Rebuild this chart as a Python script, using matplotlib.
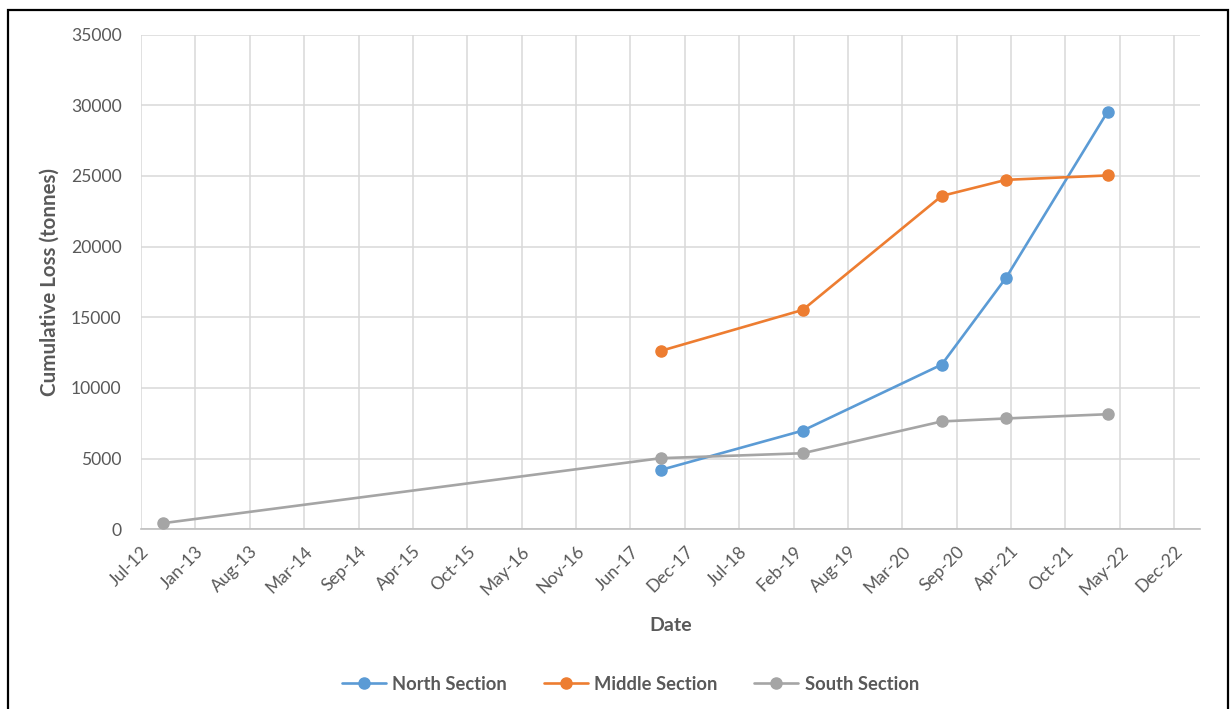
import matplotlib
matplotlib.use('Agg')
import matplotlib.pyplot as plt
import matplotlib.dates as mdates
from matplotlib.patches import Rectangle
import numpy as np
import datetime as dt

# ---- data ----
dates = ['2012-09-28', '2017-10-04', '2019-03-10', '2020-08-02', '2021-03-27', '2022-04-04']
north = [np.nan, 4200, 6980, 11650, 17800, 29530]
middle = [np.nan, 12620, 15520, 23580, 24720, 25030]
south = [430, 5030, 5380, 7630, 7840, 8140]
series_names = ['North Section', 'Middle Section', 'South Section']
y_ticks = [0, 5000, 10000, 15000, 20000, 25000, 30000, 35000]
x_tick_labels = ['Jul-12', 'Jan-13', 'Aug-13', 'Mar-14', 'Sep-14', 'Apr-15', 'Oct-15',
                 'May-16', 'Nov-16', 'Jun-17', 'Dec-17', 'Jul-18', 'Feb-19', 'Aug-19',
                 'Mar-20', 'Sep-20', 'Apr-21', 'Oct-21', 'May-22', 'Dec-22']
axis_start = '2012-07-10'
tick_step_days = 200
axis_span_days = 3895

colors = ['#5B9BD5', '#ED7D31', '#A5A5A5']
text_color = '#595959'
FONT = ['Lato', 'DejaVu Sans']

plt.rcParams['font.family'] = FONT

W, H = 1231, 709
fig = plt.figure(figsize=(W / 100, H / 100), dpi=100)
fig.patch.set_facecolor('white')

left, right, top, bottom = 141, 1200, 34.5, 529.3
ax = fig.add_axes([left / W, 1 - bottom / H, (right - left) / W, (bottom - top) / H])

x = [dt.datetime.strptime(d, '%Y-%m-%d') for d in dates]
start = dt.datetime.strptime(axis_start, '%Y-%m-%d')

for vals, c, name in zip([north, middle, south], colors, series_names):
    ax.plot(x, vals, color=c, lw=1.9, marker='o', ms=8, mec=c, mfc=c,
            label=name, solid_capstyle='round', zorder=3)

ticks = [start + dt.timedelta(days=tick_step_days * i) for i in range(len(x_tick_labels))]
ax.set_xticks(ticks)
ax.set_xticklabels(x_tick_labels, rotation=45, ha='right', va='top',
                   rotation_mode='anchor', fontsize=12.6, color=text_color)
ax.set_xlim(start, start + dt.timedelta(days=axis_span_days))

ax.set_yticks(y_ticks)
ax.set_yticklabels([str(v) for v in y_ticks], fontsize=12.6, color=text_color)
ax.set_ylim(0, 35000)

ax.tick_params(axis='x', length=0, pad=10)
ax.tick_params(axis='y', length=0, pad=14)

ax.grid(True, color='#D9D9D9', lw=1.1, zorder=0)
ax.set_axisbelow(True)
for s in ['top', 'right', 'left']:
    ax.spines[s].set_visible(False)
ax.spines['bottom'].set_color('#BFBFBF')
ax.spines['bottom'].set_linewidth(1.2)

ax.set_xlabel('Date', fontsize=14, fontweight='bold', color=text_color, labelpad=14)
ax.set_ylabel('Cumulative Loss (tonnes)', fontsize=14.8, fontweight='bold',
              color=text_color, labelpad=8)

leg = fig.legend(loc='center', bbox_to_anchor=(0.512, 1 - 684 / H), ncol=3,
                 frameon=False, handlelength=2.4, handletextpad=0.35,
                 columnspacing=2.0, labelcolor=text_color,
                 prop={'weight': 'bold', 'size': 13.2, 'family': FONT})

# outer frame
fig.patches.append(Rectangle((8 / W, -0.05), (1228 - 8) / W, 1.05 - 10 / H,
                             transform=fig.transFigure, fill=False,
                             edgecolor='black', lw=1.6))

fig.savefig('out.png', dpi=100)
